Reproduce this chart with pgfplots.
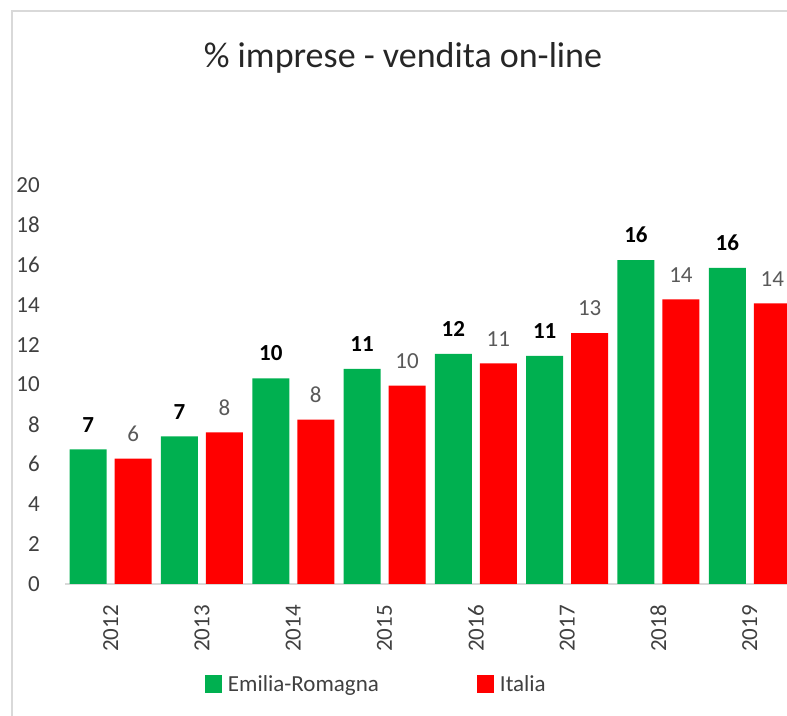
\documentclass[border=0pt]{standalone}
\usepackage{pgfplots}
\pgfplotsset{compat=1.18}
\usepackage{fontspec}
\setmainfont{Carlito}
\pgfkeys{/pgf/number format/assume math mode=true}
\definecolor{erg}{HTML}{00B050}
\definecolor{ita}{HTML}{FF0000}
\definecolor{txt}{HTML}{404040}
\definecolor{lbl}{HTML}{595959}
\definecolor{framec}{HTML}{D9D9D9}
\begin{document}
\begin{tikzpicture}[x=1bp,y=1bp]
\path[use as bounding box] (0,0) rectangle (787,716);
\draw[framec, line width=1.5bp] (12,0) -- (12,705) -- (787,705);
\node[anchor=base, inner sep=0pt, font=\fontsize{36bp}{40bp}\selectfont, text=black!85] at (403,648) {\% imprese - vendita on-line};
\begin{axis}[
  /pgf/number format/assume math mode=true,
  at={(65bp,132bp)}, anchor=south west,
  scale only axis, width=722bp, height=399bp,
  xmin=-0.5, xmax=7.408, ymin=0, ymax=20,
  enlargelimits=false,
  ytick={0,2,...,20},
  xtick={0,...,7}, xticklabels={2012,2013,2014,2015,2016,2017,2018,2019},
  axis lines*=left, axis line style={-},
  x axis line style={draw=framec, line width=1.5bp},
  y axis line style={draw=none},
  major tick length=0pt,
  tick label style={font=\fontsize{23bp}{26bp}\selectfont, text=txt},
  yticklabel style={anchor=east, inner sep=0pt}, yticklabel shift=25bp,
  xticklabel style={rotate=90, anchor=east, inner sep=0pt}, xticklabel shift=21bp,
  ybar, bar width=37bp,
  clip=true,
  point meta=y,
  nodes near coords={\pgfmathprintnumber[fixed,precision=0,assume math mode=true]{\pgfplotspointmeta}},
  every node near coord/.append style={anchor=south, inner sep=0pt, yshift=17bp, font=\fontsize{23bp}{26bp}\selectfont},
  mylegend/.style={legend image code/.code={\fill[##1, draw=none] (0bp,-9bp) rectangle (17bp,9bp);}},
  legend columns=2,
  legend style={at={(0.1939,-0.2506)}, anchor=west, draw=none, fill=none, inner sep=0pt, outer sep=0pt,
    font=\fontsize{23bp}{26bp}\selectfont, text=txt, nodes={inner sep=0pt},
    /tikz/every odd column/.append style={column sep=6bp},
    /tikz/every even column/.append style={column sep=98bp}},
]
\addplot[fill=erg, draw=none, bar shift=-22.5bp, mylegend,
  every node near coord/.append style={text=black, font=\fontsize{23bp}{26bp}\selectfont\bfseries}]
  coordinates {(0,6.75) (1,7.40) (2,10.31) (3,10.78) (4,11.53) (5,11.44) (6,16.23) (7,15.84)};
\addplot[fill=ita, draw=none, bar shift=22.5bp, mylegend,
  every node near coord/.append style={text=lbl}]
  coordinates {(0,6.28) (1,7.60) (2,8.24) (3,9.94) (4,11.06) (5,12.57) (6,14.27) (7,14.07)};
\legend{Emilia-Romagna, Italia}
\end{axis}
\end{tikzpicture}
\end{document}
